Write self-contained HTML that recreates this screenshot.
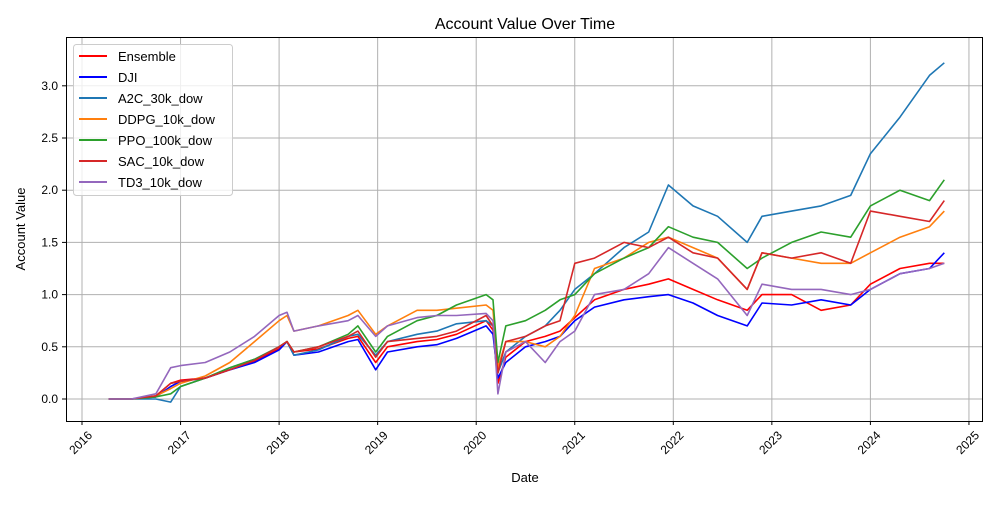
<!DOCTYPE html>
<html><head><meta charset="utf-8"><style>
body{margin:0;background:#fff}
svg{font-family:"Liberation Sans","DejaVu Sans",sans-serif}
</style></head><body>
<svg id="chart" width="1000" height="500" viewBox="0 0 1000 500">
<rect width="1000" height="500" fill="#fff"/>
<g id="grid"></g>
<g id="series"></g>
<rect x="66.5" y="37.5" width="916" height="384" fill="none" stroke="#000" stroke-width="1"/>
<g id="ticks"></g>
<text x="525" y="29" text-anchor="middle" font-size="16">Account Value Over Time</text>
<text x="525" y="482" text-anchor="middle" font-size="13">Date</text>
<text x="25" y="229" text-anchor="middle" font-size="13" transform="rotate(-90 25 229)">Account Value</text>
<g id="legend"></g>
</svg>
<script>
const dates=[2016.27,2016.5,2016.75,2016.9,2017.0,2017.25,2017.5,2017.75,2018.0,2018.08,2018.15,2018.4,2018.7,2018.8,2018.98,2019.1,2019.4,2019.6,2019.8,2020.1,2020.17,2020.22,2020.3,2020.5,2020.7,2020.85,2021.0,2021.2,2021.5,2021.75,2021.95,2022.2,2022.45,2022.75,2022.9,2023.2,2023.5,2023.8,2024.0,2024.3,2024.6,2024.75];
const ensemble=[0,0,0.03,0.15,0.18,0.2,0.28,0.36,0.48,0.55,0.45,0.48,0.58,0.6,0.35,0.5,0.55,0.57,0.62,0.75,0.66,0.15,0.4,0.55,0.6,0.65,0.78,0.95,1.05,1.1,1.15,1.05,0.95,0.85,1.0,1.0,0.85,0.9,1.1,1.25,1.3,1.3];
const dji=[0,0,0.02,0.12,0.17,0.2,0.28,0.35,0.47,0.55,0.42,0.45,0.55,0.57,0.28,0.45,0.5,0.52,0.58,0.7,0.62,0.2,0.35,0.5,0.55,0.6,0.75,0.88,0.95,0.98,1.0,0.92,0.8,0.7,0.92,0.9,0.95,0.9,1.05,1.2,1.25,1.4];
const a2c=[0,0,0.0,-0.03,0.12,0.2,0.3,0.38,0.5,0.55,0.42,0.47,0.6,0.62,0.42,0.55,0.62,0.65,0.72,0.75,0.7,0.25,0.45,0.6,0.7,0.85,1.05,1.2,1.45,1.6,2.05,1.85,1.75,1.5,1.75,1.8,1.85,1.95,2.35,2.7,3.1,3.22];
const ddpg=[0,0,0.03,0.1,0.15,0.22,0.35,0.55,0.75,0.8,0.65,0.7,0.8,0.85,0.62,0.7,0.85,0.85,0.87,0.9,0.85,0.3,0.55,0.55,0.5,0.6,0.8,1.25,1.35,1.5,1.55,1.45,1.35,1.05,1.4,1.35,1.3,1.3,1.4,1.55,1.65,1.8];
const ppo=[0,0,0.02,0.05,0.12,0.2,0.3,0.38,0.5,0.55,0.45,0.5,0.62,0.7,0.45,0.6,0.75,0.8,0.9,1.0,0.95,0.35,0.7,0.75,0.85,0.95,1.0,1.2,1.35,1.45,1.65,1.55,1.5,1.25,1.35,1.5,1.6,1.55,1.85,2.0,1.9,2.1];
const sac=[0,0,0.03,0.15,0.17,0.2,0.28,0.37,0.5,0.55,0.45,0.5,0.6,0.65,0.4,0.55,0.58,0.6,0.65,0.8,0.7,0.25,0.55,0.6,0.7,0.75,1.3,1.35,1.5,1.45,1.55,1.4,1.35,1.05,1.4,1.35,1.4,1.3,1.8,1.75,1.7,1.9];
const td3=[0,0,0.05,0.3,0.32,0.35,0.45,0.6,0.8,0.83,0.65,0.7,0.75,0.8,0.6,0.7,0.78,0.8,0.8,0.82,0.75,0.05,0.45,0.55,0.35,0.55,0.65,1.0,1.05,1.2,1.45,1.3,1.15,0.8,1.1,1.05,1.05,1.0,1.05,1.2,1.25,1.3];
const seriesNames=["Ensemble","DJI","A2C_30k_dow","DDPG_10k_dow","PPO_100k_dow","SAC_10k_dow","TD3_10k_dow"];
const seriesColors=["#ff0000","#0000ff","#1f77b4","#ff7f0e","#2ca02c","#d62728","#9467bd"];
const xTicks=[2016,2017,2018,2019,2020,2021,2022,2023,2024,2025];
const yTicks=[0.0,0.5,1.0,1.5,2.0,2.5,3.0];
const NS="http://www.w3.org/2000/svg";
const xS=v=>82+(v-2016)*98.55;
const yS=v=>399-v*104.4;
function mk(tag,attrs,parent){const e=document.createElementNS(NS,tag);for(const k in attrs)e.setAttribute(k,attrs[k]);parent.appendChild(e);return e;}
const grid=document.getElementById('grid'),ticks=document.getElementById('ticks');
xTicks.forEach(t=>{
  const gl=mk('line',{x1:xS(t),x2:xS(t),y1:37,y2:421,stroke:'#b0b0b0','stroke-width':1},grid);
  
  
  const tk=mk('line',{x1:xS(t),x2:xS(t),y1:421,y2:425,stroke:'#000'},ticks);
  
  
  const ax=xS(t)+11, ay=436;
  const tx=mk('text',{x:ax,y:ay,'font-size':12,'text-anchor':'end',transform:`rotate(-45 ${ax} ${ay})`},ticks);
  tx.textContent=t;
  
  
});
yTicks.forEach(t=>{
  const gl=mk('line',{x1:66,x2:982,y1:yS(t),y2:yS(t),stroke:'#b0b0b0','stroke-width':1},grid);
  
  
  const tk=mk('line',{x1:62,x2:66,y1:yS(t),y2:yS(t),stroke:'#000'},ticks);
  
  
  const tx=mk('text',{x:58,y:yS(t)+4,'font-size':12,'text-anchor':'end'},ticks);
  tx.textContent=t.toFixed(1);
  
  
});
const all=[ensemble,dji,a2c,ddpg,ppo,sac,td3];
const sg=document.getElementById('series');
all.forEach((arr,i)=>{
  const d=arr.map((v,j)=>(j?'L':'M')+xS(dates[j]).toFixed(1)+','+yS(v).toFixed(1)).join('');
  const p=mk('path',{d:d,fill:'none',stroke:seriesColors[i],'stroke-width':1.6,'stroke-linejoin':'round'},sg);
  
  
});
const lg=document.getElementById('legend');
const box=mk('rect',{x:73.5,y:44.5,width:159,height:151,rx:3,fill:'#fff','fill-opacity':0.8,stroke:'#ccc'},lg);


seriesNames.forEach((n,i)=>{
  const y=56+i*21;
  const g=mk('g',{},lg);
  
  
  mk('line',{x1:79,x2:107,y1:y,y2:y,stroke:seriesColors[i],'stroke-width':2},g);
  const t=mk('text',{x:118,y:y+5,'font-size':13},g);
  t.textContent=n;
});
</script>
</body></html>
